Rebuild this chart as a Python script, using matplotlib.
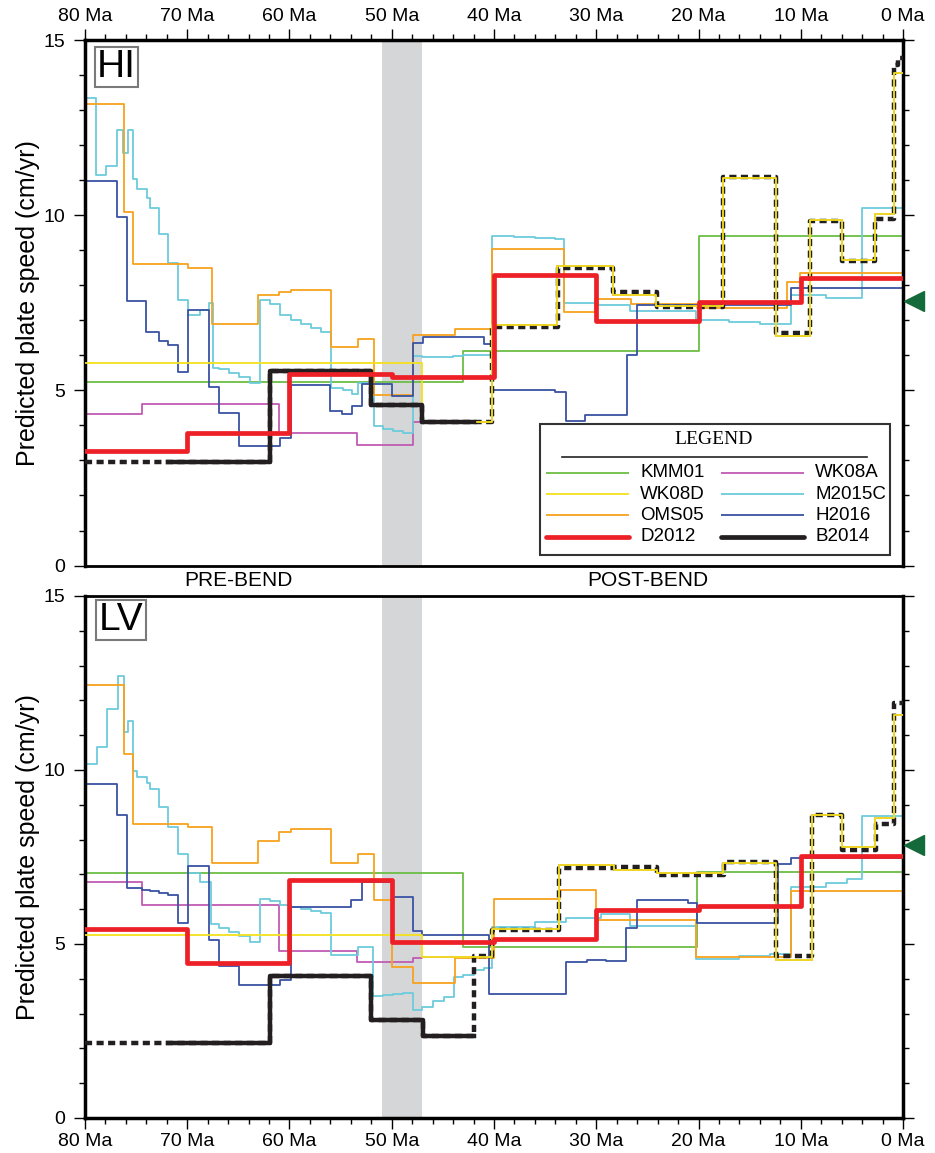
import matplotlib
matplotlib.use('Agg')
import matplotlib.pyplot as plt
from matplotlib.ticker import MultipleLocator, FuncFormatter
from matplotlib.patches import Rectangle
import numpy as np

plt.rcParams['font.family'] = ['Liberation Sans', 'DejaVu Sans']

# ---- HI (Hawaii) step models: ages (Ma, breakpoints) and speeds (cm/yr) ----
hi_kmm01_age = [80, 43, 20, 0]
hi_kmm01_v = [5.25, 6.12, 9.41]

hi_wk08a_age = [80, 74.4, 61, 53.4, 47.9, 40.2, 33.8, 28.4, 24.2, 17.6, 12.4, 9.1, 6.0, 2.7, 0.9, 0]
hi_wk08a_v = [4.33, 4.61, 3.77, 3.44, 4.11, 6.88, 8.55, 7.72, 7.40, 11.06, 6.55, 9.85, 8.72, 10.02, 14.07]

hi_wk08d_age = [80, 47, 40.2, 33.8, 28.4, 24.2, 17.6, 12.4, 9.1, 6.0, 2.7, 0.9, 0]
hi_wk08d_v = [5.78, 4.11, 6.88, 8.55, 7.72, 7.40, 11.06, 6.55, 9.85, 8.72, 10.02, 14.07]

hi_m2015c_age = [80, 78.9, 77.9, 76.9, 76.3, 75.8, 75.3, 74.9, 73.9, 73.6, 72.8, 71.9, 70.9,
                 69.9, 68.8, 67.9, 67.5, 66.9, 65.9, 64.9, 63.9, 62.9, 61.9, 60.9, 59.9, 58.9,
                 57.9, 56.9, 55.9, 54.8, 53.9, 53.3, 51.7, 50.9, 49.9, 48.9, 47.9, 47.0, 45.9,
                 44.0, 43.0, 40.2, 38, 36, 34, 33.2, 29.9, 26.7, 20.2, 17, 14, 11.0, 7.5, 4.06, 0]
hi_m2015c_v = [13.34, 11.15, 11.4, 12.43, 11.77, 12.43, 11.03, 10.74, 10.48, 10.2, 9.46, 8.63,
               7.58, 7.16, 7.28, 7.5, 5.65, 5.62, 5.49, 5.38, 5.21, 7.58, 7.46, 7.16, 7.0, 6.9,
               6.78, 6.66, 5.08, 5.0, 4.9, 5.21, 3.97, 3.9, 3.85, 3.78, 5.97, 5.95, 5.94, 5.97,
               6.0, 9.41, 9.38, 9.35, 9.32, 7.49, 7.43, 7.27, 7.01, 6.96, 6.9, 7.71, 7.65, 10.2]

hi_oms05_age = [80, 76.2, 75.3, 69.9, 67.6, 63.1, 61, 59.9, 55.9, 53.3, 51.7, 47.9, 43.8, 40.2,
                33.2, 30.1, 26.6, 20.1, 11.3, 10.1, 0]
hi_oms05_v = [13.17, 10.1, 8.6, 8.48, 6.89, 7.73, 7.8, 7.87, 6.25, 6.46, 4.88, 6.57, 6.76, 9.04,
              7.23, 7.61, 7.47, 7.35, 8.08, 8.35]

hi_h2016_age = [80, 76.9, 75.9, 74.0, 72.8, 71.9, 70.9, 69.9, 67.9, 66.9, 64.9, 62.8, 60.9, 59.9,
                56.0, 54.9, 53.9, 52.9, 50.0, 47.9, 46.9, 41.0, 40.2, 34.0, 33.0, 31.1, 27.0, 26.0,
                11.0, 0]
hi_h2016_v = [10.99, 9.96, 7.56, 6.66, 6.4, 6.3, 5.51, 7.28, 5.11, 4.35, 3.4, 3.42, 3.64, 5.16,
              4.4, 4.33, 4.54, 5.18, 4.85, 6.35, 6.51, 6.33, 5.02, 4.94, 4.13, 4.3, 6.02, 7.44, 7.92]

hi_d2012_age = [80, 70, 60, 50, 40, 30, 20, 10, 0]
hi_d2012_v = [3.28, 3.78, 5.47, 5.38, 8.3, 6.97, 7.51, 8.22]

hi_b2014_age = [80, 61.9, 52.0, 47.0, 42.0, 40.2, 33.7, 28.4, 24.1, 17.6, 12.4, 9.1, 6.0, 2.7, 0.9, 0.5, 0]
hi_b2014_v = [2.95, 5.54, 4.57, 4.09, 4.1, 6.82, 8.49, 7.82, 7.39, 11.1, 6.64, 9.84, 8.68, 9.89, 14.3, 14.5]

hi_present = 7.55

# ---- LV (Louisville) ----
lv_kmm01_age = [80, 43, 20.1, 0]
lv_kmm01_v = [7.04, 4.92, 7.06]

lv_wk08a_age = [80, 74.4, 61, 53.4, 47.9, 47.0, 40.2, 33.6, 28.3, 24.1, 17.6, 12.4, 8.9, 6.0, 2.7, 0.9, 0]
lv_wk08a_v = [6.78, 6.11, 4.8, 4.48, 4.59, 4.62, 5.44, 7.26, 7.12, 7.05, 7.33, 4.54, 8.7, 7.79, 8.61, 11.58]

lv_wk08d_age = [80, 47.0, 40.2, 33.6, 28.3, 24.1, 17.6, 12.4, 8.9, 6.0, 2.7, 0.9, 0]
lv_wk08d_v = [5.25, 4.62, 5.44, 7.26, 7.12, 7.05, 7.33, 4.54, 8.7, 7.79, 8.61, 11.58]

lv_m2015c_age = [80, 78.8, 77.8, 76.8, 76.2, 75.8, 75.3, 74.9, 73.9, 73.6, 72.8, 71.9, 70.9,
                 69.9, 68.8, 67.7, 66.9, 65.9, 64.9, 63.9, 62.9, 61.9, 60.9, 59.9, 58.9, 57.9,
                 56.9, 55.9, 53.3, 51.8, 50.9, 49.9, 48.9, 47.9, 47.0, 46.0, 44.9, 43.9, 43.0,
                 42.0, 41.0, 40.2, 36, 33, 29.5, 26.7, 20.2, 16, 13, 11.0, 7.5, 5.5, 4.06, 0]
lv_m2015c_v = [10.16, 10.66, 11.75, 12.69, 11.1, 11.42, 9.97, 9.79, 9.62, 9.44, 8.93, 8.35,
               7.58, 7.05, 6.77, 5.58, 5.47, 5.34, 5.22, 5.05, 6.3, 6.24, 6.13, 6.06, 6.01,
               5.94, 5.9, 4.69, 4.91, 3.5, 3.53, 3.56, 3.59, 3.1, 3.19, 3.35, 3.49, 4.04, 4.1,
               4.25, 4.3, 5.49, 5.62, 5.75, 5.87, 5.53, 4.57, 4.64, 4.72, 6.64, 6.76, 6.86, 8.67]

lv_oms05_age = [80, 76.2, 75.3, 69.9, 67.6, 63.1, 61, 59.9, 55.9, 53.3, 51.7, 50.0, 47.9, 43.8,
                40.0, 33.5, 30.0, 20.2, 11.0, 0]
lv_oms05_v = [12.43, 10.46, 8.46, 8.37, 7.33, 7.97, 8.22, 8.3, 7.34, 7.58, 6.26, 4.33, 3.87, 4.6,
              6.28, 6.54, 5.7, 4.62, 6.51]

lv_h2016_age = [80, 76.9, 75.9, 74.4, 73.6, 72.8, 71.9, 70.9, 69.9, 67.9, 66.9, 64.9, 60.9, 59.9,
                54.0, 52.9, 50.0, 47.9, 47.0, 40.5, 33.0, 30.9, 29.0, 27.1, 26.0, 21.0, 20.1, 12.2,
                11.0, 0]
lv_h2016_v = [9.59, 8.7, 6.62, 6.56, 6.52, 6.47, 6.42, 5.6, 7.24, 5.1, 4.38, 3.83, 3.95, 6.06,
              6.25, 6.77, 6.36, 5.36, 5.25, 3.56, 4.48, 4.55, 4.5, 5.47, 6.25, 6.18, 5.61, 7.31, 7.46]

lv_d2012_age = [80, 70, 60, 50, 40, 30, 20, 10, 0]
lv_d2012_v = [5.42, 4.45, 6.85, 5.05, 5.15, 5.99, 6.09, 7.53]

lv_b2014_age = [80, 61.9, 52.0, 46.9, 42.0, 40.2, 33.6, 28.3, 24.1, 17.5, 12.4, 8.9, 6.0, 2.6, 0.9, 0]
lv_b2014_v = [2.15, 4.07, 2.82, 2.36, 4.66, 5.39, 7.17, 7.2, 6.99, 7.36, 4.64, 8.7, 7.69, 8.46, 11.92]

lv_present = 7.84

model_names = ['KMM01', 'WK08A', 'WK08D', 'M2015C', 'OMS05', 'H2016', 'D2012', 'B2014']
colors = {'KMM01': '#6cbd45', 'WK08A': '#c15bb3', 'WK08D': '#f4e11b', 'M2015C': '#6ccbdc',
          'OMS05': '#f7a21e', 'H2016': '#3953a4', 'D2012': '#ed2027', 'B2014': '#231f20'}
bend_start, bend_end = 51, 47
b2014_solid = (71.9, 42.0)


def stair(ax, ages, vals, **kw):
    ax.step(ages, list(vals) + [vals[-1]], where='post', **kw)


def clip(ages, vals, hi, lo):
    a, v = [], []
    for i in range(len(vals)):
        s, e = min(ages[i], hi), max(ages[i + 1], lo)
        if s > e:
            a.append(s)
            v.append(vals[i])
    a.append(lo)
    return a, v


def panel(ax, data, present, name, label_xy, top):
    ax.axvspan(bend_start, bend_end, color='#d5d6d8', lw=0, zorder=0)
    for m in ['KMM01', 'WK08A', 'M2015C', 'OMS05', 'H2016']:
        a, v = data[m]
        stair(ax, a, v, color=colors[m], lw=1.3, zorder=2)
    a, v = data['B2014']
    stair(ax, a, v, color=colors['B2014'], lw=3.2, ls=(0, (1.6, 1.0)),
          solid_capstyle='butt', dash_capstyle='butt', zorder=3)
    a, v = data['WK08D']
    stair(ax, a, v, color=colors['WK08D'], lw=1.3, zorder=3.5)
    a, v = clip(*data['B2014'], *b2014_solid)
    stair(ax, a, v, color=colors['B2014'], lw=3.2, zorder=4)
    a, v = data['D2012']
    stair(ax, a, v, color=colors['D2012'], lw=3.4, zorder=5)

    ax.plot([-1.03], [present], marker='<', ms=14, color='#146a3a', clip_on=False, zorder=6)

    ax.set_xlim(80, 0)
    ax.set_ylim(0, 15)
    ax.xaxis.set_major_locator(MultipleLocator(10))
    ax.xaxis.set_minor_locator(MultipleLocator(2))
    ax.yaxis.set_major_locator(MultipleLocator(5))
    ax.yaxis.set_minor_locator(MultipleLocator(1))
    ax.xaxis.set_major_formatter(FuncFormatter(lambda x, p: '%d Ma' % round(x)))
    ax.tick_params(which='both', direction='out', width=1.0, left=True, right=True,
                   top=top, bottom=not top, labeltop=top, labelbottom=not top, labelsize=14)
    ax.tick_params(which='major', length=8)
    ax.tick_params(which='minor', length=4)
    ax.tick_params(axis='x', pad=3)
    ax.tick_params(axis='y', pad=6)
    for s in ['left', 'right']:
        ax.spines[s].set_linewidth(2.5)
    ax.spines['top'].set_linewidth(2.5 if top else 2.0)
    ax.spines['bottom'].set_linewidth(2.0 if top else 2.5)
    ax.set_ylabel('Predicted plate speed (cm/yr)', fontsize=18, labelpad=3)
    ax.text(label_xy[0], label_xy[1], name, transform=ax.transAxes, fontsize=28,
            ha='center', va='center', zorder=7,
            bbox=dict(boxstyle='square,pad=0.06', fc='white', ec='#7a7a7a', lw=1.5))


fig = plt.figure(figsize=(9.35, 11.53), dpi=100)
ax1 = fig.add_axes([0.0909, 0.5095, 0.8749, 0.4558])
ax2 = fig.add_axes([0.0909, 0.0304, 0.8749, 0.4527])

hi = {'KMM01': (hi_kmm01_age, hi_kmm01_v), 'WK08A': (hi_wk08a_age, hi_wk08a_v),
      'WK08D': (hi_wk08d_age, hi_wk08d_v), 'M2015C': (hi_m2015c_age, hi_m2015c_v),
      'OMS05': (hi_oms05_age, hi_oms05_v), 'H2016': (hi_h2016_age, hi_h2016_v),
      'D2012': (hi_d2012_age, hi_d2012_v), 'B2014': (hi_b2014_age, hi_b2014_v)}
lv = {'KMM01': (lv_kmm01_age, lv_kmm01_v), 'WK08A': (lv_wk08a_age, lv_wk08a_v),
      'WK08D': (lv_wk08d_age, lv_wk08d_v), 'M2015C': (lv_m2015c_age, lv_m2015c_v),
      'OMS05': (lv_oms05_age, lv_oms05_v), 'H2016': (lv_h2016_age, lv_h2016_v),
      'D2012': (lv_d2012_age, lv_d2012_v), 'B2014': (lv_b2014_age, lv_b2014_v)}

panel(ax1, hi, hi_present, 'HI', (0.0383, 0.9486), True)
panel(ax2, lv, lv_present, 'LV', (0.044, 0.954), False)

# pre/post bend labels between the panels
tr = matplotlib.transforms.blended_transform_factory(ax1.transData, ax1.transAxes)
ax1.text(65, -0.029, 'PRE-BEND', transform=tr, ha='center', va='center', fontsize=15)
ax1.text(25, -0.029, 'POST-BEND', transform=tr, ha='center', va='center', fontsize=15)

# legend box drawn by hand inside the top panel
t = ax1.transAxes
ax1.add_patch(Rectangle((0.556, 0.021), 0.428, 0.249, transform=t, fc='white',
                        ec='#333333', lw=1.5, zorder=8))
ax1.text(0.769, 0.240, 'LEGEND', transform=t, ha='center', va='center', fontsize=14,
         family=['Liberation Serif', 'DejaVu Serif'], zorder=9)
ax1.plot([0.583, 0.956], [0.2065, 0.2065], transform=t, color='#222222', lw=1.2, zorder=9)
rows = [0.1766, 0.1361, 0.0955, 0.0549]
cols = [(0.5636, 0.6650, 0.6785), (0.7775, 0.8790, 0.8924)]
order = ['KMM01', 'WK08D', 'OMS05', 'D2012', 'WK08A', 'M2015C', 'H2016', 'B2014']
for i, m in enumerate(order):
    c = cols[i // 4]
    y = rows[i % 4]
    lw = 3.4 if m in ('D2012', 'B2014') else 1.3
    ax1.plot([c[0], c[1]], [y, y], transform=t, color=colors[m], lw=lw,
             solid_capstyle='round' if lw > 2 else 'butt', zorder=9)
    ax1.text(c[2], y, m, transform=t, ha='left', va='center', fontsize=13.5, zorder=9)

fig.savefig('out.png', dpi=100)
